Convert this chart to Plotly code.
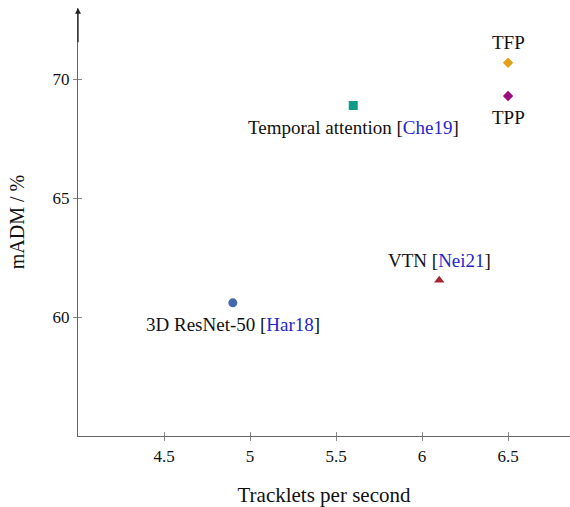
import plotly.graph_objects as go

methods = ["TFP", "TPP", "Temporal attention", "VTN", "3D ResNet-50"]
cites = ["", "", "Che19", "Nei21", "Har18"]
tracklets_per_sec = [6.5, 6.5, 5.6, 6.1, 4.9]
madm = [70.7, 69.3, 68.9, 61.55, 60.6]
symbols = ["diamond", "diamond", "square", "triangle-up", "circle"]
colors = ["#E1A11A", "#9A0C7E", "#0E9C86", "#A8232D", "#4767AD"]
label_above = [True, False, False, True, False]
x_ticks = [4.5, 5, 5.5, 6, 6.5]
y_ticks = [60, 65, 70]

FONT = "Liberation Serif"
fig = go.Figure()
for m, c, x, y, s, col, up in zip(methods, cites, tracklets_per_sec, madm, symbols, colors, label_above):
    fig.add_trace(go.Scatter(
        x=[x], y=[y], mode="markers",
        marker=dict(symbol=s, color=col, size=9 if s != "diamond" else 8,
                    line=dict(width=0)),
        showlegend=False, cliponaxis=False))
    label = m if not c else f"{m} [<span style='color:#2525D0'>{c}</span>]"
    fig.add_annotation(x=x, y=y, xref="x", yref="y", text=label, showarrow=False,
                       yshift=20 if up else -22,
                       font=dict(family=FONT, size=19, color="#111"))

ax_common = dict(showgrid=False, zeroline=False, linecolor="#666", linewidth=1.3,
                 tickcolor="#888", ticklen=4, tickwidth=1,
                 tickfont=dict(size=17))
fig.update_layout(
    width=570, height=507,
    margin=dict(l=78, r=0, t=8, b=71),
    paper_bgcolor="white", plot_bgcolor="white",
    font=dict(family=FONT, size=17, color="#111"),
    xaxis=dict(range=[4.0, 6.86], tickvals=x_ticks, ticks="outside", showline=True,
               title=dict(text="Tracklets per second", font=dict(size=21), standoff=22),
               **ax_common),
    yaxis=dict(range=[55, 73], tickvals=y_ticks, ticks="outside", showline=True,
               title=dict(text="mADM / %", font=dict(size=20), standoff=22),
               **ax_common),
    xaxis2=dict(range=[4.0, 6.86], tickvals=x_ticks, ticks="inside", showticklabels=False,
                overlaying="x", showgrid=False, zeroline=False, tickcolor="#888", ticklen=4),
    yaxis2=dict(range=[55, 73], tickvals=y_ticks, ticks="inside", showticklabels=False,
                overlaying="y", showgrid=False, zeroline=False, tickcolor="#888", ticklen=4),
)
fig.add_trace(go.Scatter(x=[None], y=[None], xaxis="x2", yaxis="y2", showlegend=False))
fig.add_annotation(x=4.0, y=73, xref="x", yref="y", ax=4.0, ay=71.5, axref="x", ayref="y",
                   showarrow=True, arrowhead=2, arrowsize=0.9, arrowwidth=1.3,
                   arrowcolor="#222", text="")
fig.write_html("out.html")
